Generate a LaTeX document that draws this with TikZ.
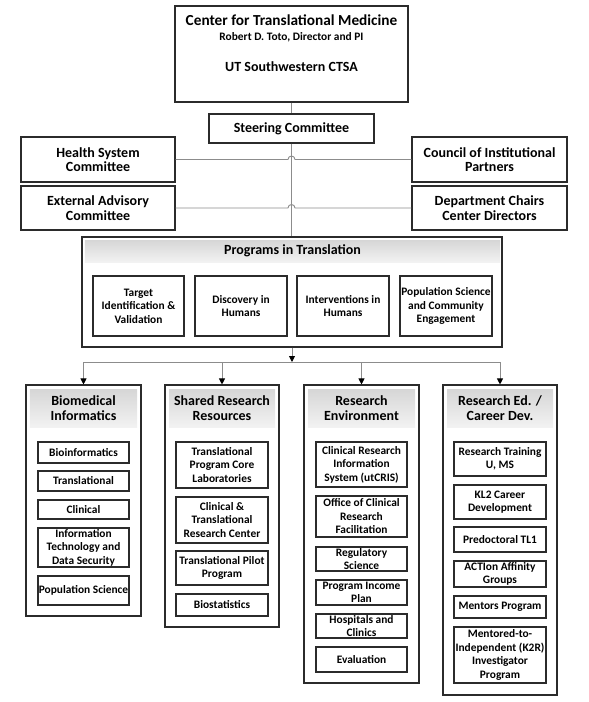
\documentclass[tikz,border=0pt]{standalone}
\usepackage{fontspec}
\setmainfont{Carlito}
\usetikzlibrary{arrows.meta}
\usetikzlibrary{shapes}

\definecolor{boxline}{HTML}{2B2B2B}
\definecolor{linkgray}{HTML}{8C8C8C}
\definecolor{headtop}{HTML}{D6D6D6}
\definecolor{headbot}{HTML}{F2F2F2}

\newcommand\titlesz{\fontsize{15.3bp}{17bp}\selectfont\bfseries}
\newcommand\mainsz{\fontsize{14bp}{14.5bp}\selectfont\bfseries}
\newcommand\itemsz{\fontsize{11.4bp}{13.5bp}\selectfont\bfseries}

\tikzset{
  box/.style={rectangle,draw=boxline,line width=1.1bp,inner sep=0pt,align=center,font=\mainsz},
  item/.style={box,font=\itemsz,minimum width=91bp},
  head/.style={rectangle,top color=headtop,bottom color=headbot,inner sep=0pt,align=center,font=\mainsz},
  link/.style={draw=linkgray,line width=0.9bp},
  drop/.style={link,-{Triangle[color=black,length=6bp,width=6bp]}}
}

\begin{document}
\begin{tikzpicture}[x=1bp,y=-1bp]
\useasboundingbox (0,0) rectangle (589,702);
% top of the chart
\node(ctm) at (291.5,54) [box,minimum width=233bp,minimum height=96bp]{};
\node(ctmtitle) at (291.5,26) [anchor=base,font=\titlesz]{Center for Translational Medicine};
\node(ctmpi) at (291.5,40.5) [anchor=base,font=\itemsz]{Robert D. Toto, Director and PI};
\node(ctmctsa) at (291.5,71.5) [anchor=base,font=\mainsz]{UT Southwestern CTSA};
\node(sc) at (291.5,128.5) [box,minimum width=165bp,minimum height=29bp]{Steering Committee};
\node(hsc) at (98,159.5) [box,minimum width=154bp,minimum height=45bp]{Health System\\Committee};
\node(eac) at (98,208) [box,minimum width=154bp,minimum height=44bp]{External Advisory\\Committee};
\node(cip) at (489.5,159.5) [box,minimum width=155bp,minimum height=45bp]{Council of Institutional\\Partners};
\node(dcc) at (489.5,208) [box,minimum width=155bp,minimum height=44bp]{Department Chairs\\Center Directors};
% programs in translation
\node(pit) at (292,292) [box,minimum width=420bp,minimum height=110bp]{};
\node(pithead) at (292.5,251) [head,minimum width=415bp,minimum height=22bp]{Programs in Translation};
\node(tiv) at (138.5,306) [item,minimum height=60bp]{Target\\Identification \&\\Validation};
\node(dih) at (241,306) [item,minimum width=92bp,minimum height=60bp]{Discovery in\\Humans};
\node(inh) at (343,306) [item,minimum width=92bp,minimum height=60bp]{Interventions in\\Humans};
\node(psc) at (446,306) [item,minimum width=92bp,minimum height=60bp]{Population Science\\and Community\\Engagement};
% columns
\node(bmi) at (83.5,500.5) [box,minimum width=115bp,minimum height=231bp]{};
\node(srr) at (222,506) [box,minimum width=114bp,minimum height=242bp]{};
\node(ren) at (361.5,534) [box,minimum width=115bp,minimum height=298bp]{};
\node(red) at (500,540) [box,minimum width=114bp,minimum height=310bp]{};
\node(bmihead) at (83.5,408) [head,minimum width=107bp,minimum height=38bp]{Biomedical\\Informatics};
\node(srrhead) at (222,408) [head,minimum width=106bp,minimum height=38bp]{Shared Research\\Resources};
\node(renhead) at (361.5,408) [head,minimum width=107bp,minimum height=38bp]{Research\\Environment};
\node(redhead) at (500,408) [head,minimum width=106bp,minimum height=38bp]{Research Ed. /\\Career Dev.};
% biomedical informatics
\node(bio) at (83.5,452.5) [item,minimum height=21bp]{Bioinformatics};
\node(trn) at (83.5,481) [item,minimum height=20bp]{Translational};
\node(cln) at (83.5,509.5) [item,minimum height=19bp]{Clinical};
\node(itd) at (83.5,547.5) [item,minimum height=39bp]{Information\\Technology and\\Data Security};
\node(pop) at (83.5,590.5) [item,minimum height=29bp]{Population Science};
% shared research resources
\node(pcl) at (222,465) [item,minimum width=92bp,minimum height=46bp]{Translational\\Program Core\\Laboratories};
\node(ctr) at (222,520) [item,minimum width=92bp,minimum height=46bp]{Clinical \&\\Translational\\Research Center};
\node(tpp) at (222,568) [item,minimum width=92bp,minimum height=34bp]{Translational Pilot\\Program};
\node(bst) at (222,605) [item,minimum width=92bp,minimum height=22bp]{Biostatistics};
% research environment
\node(cri) at (361.5,464.5) [item,minimum height=45bp]{Clinical Research\\Information\\System (utCRIS)};
\node(ocr) at (361.5,516.5) [item,minimum height=41bp]{Office of Clinical\\Research\\Facilitation};
\node(rgs) at (361.5,559) [item,minimum height=24bp]{Regulatory\\Science};
\node(pip) at (361.5,592.5) [item,minimum height=25bp]{Program Income\\Plan};
\node(hac) at (361.5,626) [item,minimum height=24bp]{Hospitals and\\Clinics};
\node(evl) at (361.5,659.5) [item,minimum height=25bp]{Evaluation};
% research education / career development
\node(rtu) at (500,459) [item,minimum width=92bp,minimum height=34bp]{Research Training\\U, MS};
\node(kl2) at (500,502) [item,minimum width=92bp,minimum height=34bp]{KL2 Career\\Development};
\node(tl1) at (500,539.5) [item,minimum width=92bp,minimum height=25bp]{Predoctoral TL1};
\node(aag) at (500,574) [item,minimum width=92bp,minimum height=26bp]{ACTIon Affinity\\Groups};
\node(mnp) at (500,607) [item,minimum width=92bp,minimum height=22bp]{Mentors Program};
\node(k2r) at (500,655) [item,minimum width=92bp,minimum height=56bp]{Mentored-to-\\Independent (K2R)\\Investigator\\Program};
% connectors
\coordinate(bus) at (292,362);
\draw[link] (ctm.south -| sc.north) -- (sc.north);
\draw[link] (sc.south) -- (sc.south |- pit.north);
\draw[link] (hsc.east) -- ([xshift=-3.5bp]hsc.east -| sc.south) arc[start angle=180,end angle=0,radius=3.5bp] -- (cip.west);
\draw[link] (eac.east) -- ([xshift=-3.5bp]eac.east -| sc.south) arc[start angle=180,end angle=0,radius=3.5bp] -- (dcc.west);
\draw[drop] (pit.south -| bus) -- (bus);
\draw[link] (bus -| bmi.north) -- (bus -| red.north);
\draw[drop] (bus -| bmi.north) -- (bmi.north);
\draw[drop] (bus -| srr.north) -- (srr.north);
\draw[drop] (bus -| ren.north) -- (ren.north);
\draw[drop] (bus -| red.north) -- (red.north);
\end{tikzpicture}
\end{document}
